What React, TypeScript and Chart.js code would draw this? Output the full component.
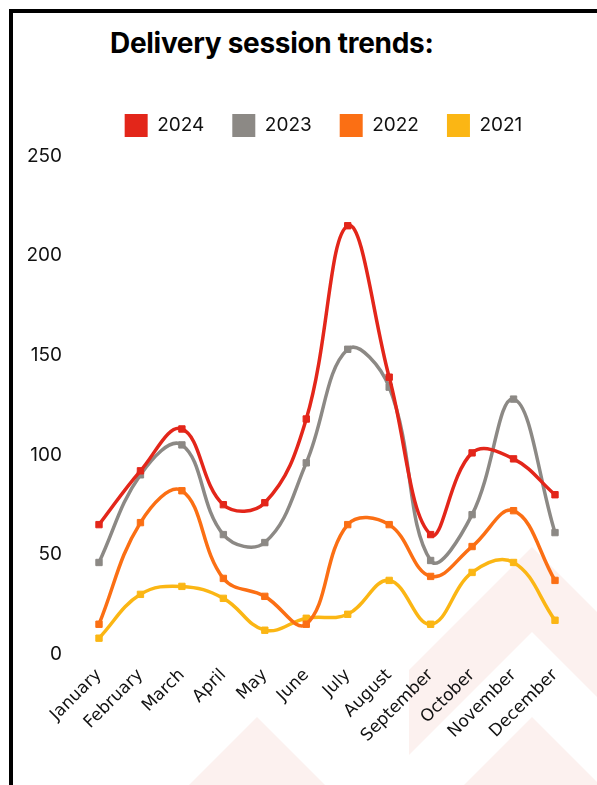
import React, { useEffect, useRef } from 'react';
import { Chart, registerables } from 'chart.js';

Chart.register(...registerables);

const months = [
  'January', 'February', 'March', 'April', 'May', 'June',
  'July', 'August', 'September', 'October', 'November', 'December',
];
const seriesNames = ['2024', '2023', '2022', '2021'];
const sessions2024 = [65, 92, 113, 75, 76, 118, 215, 139, 60, 101, 98, 80];
const sessions2023 = [46, 90, 105, 60, 56, 96, 153, 134, 47, 70, 128, 61];
const sessions2022 = [15, 66, 82, 38, 29, 15, 65, 65, 39, 54, 72, 37];
const sessions2021 = [8, 30, 34, 28, 12, 18, 20, 37, 15, 41, 46, 17];
const seriesValues = [sessions2024, sessions2023, sessions2022, sessions2021];
const seriesColors = ['#e3261a', '#8c8985', '#fb6f14', '#fbb614'];
const yMin = 0;
const yMax = 250;
const yStep = 50;

const legendShift = {
  id: 'legendShift',
  afterLayout(chart: any, _args: any, opts: any) {
    const lg = chart.legend;
    if (!lg) return;
    const dx = opts.dx || 0;
    const dy = opts.dy || 0;
    lg.left += dx;
    lg.right += dx;
    lg.top += dy;
    lg.bottom += dy;
  },
};

export default function App() {
  const canvasRef = useRef<HTMLCanvasElement | null>(null);

  useEffect(() => {
    document.body.style.margin = '0';
    document.body.style.overflow = 'hidden';
    const canvas = canvasRef.current;
    if (!canvas) return;
    const chart = new Chart(canvas, {
      type: 'line',
      data: {
        labels: months,
        datasets: seriesNames.map((name, i) => ({
          label: name,
          data: seriesValues[i],
          borderColor: seriesColors[i],
          backgroundColor: seriesColors[i],
          pointBackgroundColor: seriesColors[i],
          pointBorderColor: seriesColors[i],
          borderWidth: 3.5,
          pointStyle: 'rect',
          pointRadius: 4.5,
          pointBorderWidth: 1,
          tension: 0.4,
          fill: false,
        })),
      },
      options: {
        animation: false,
        responsive: false,
        layout: { padding: { left: 15, right: 42, top: 0, bottom: 36 } },
        plugins: {
          title: { display: false },
          tooltip: { enabled: false },
          legend: {
            display: true,
            position: 'top',
            labels: {
              boxWidth: 23,
              boxHeight: 23,
              padding: 28,
              color: '#111',
              font: { family: 'Inter', size: 19 },
              generateLabels: (c: any) =>
                (Chart.defaults.plugins.legend.labels as any)
                  .generateLabels(c)
                  .map((l: any) => ({ ...l, lineWidth: 0 })),
            },
          },
          legendShift: { dx: 32, dy: -9 },
        } as any,
        scales: {
          x: {
            offset: false,
            grid: { display: false },
            border: { display: false },
            ticks: {
              autoSkip: false,
              maxRotation: 45,
              minRotation: 45,
              color: '#111',
              padding: 3,
              font: { family: 'DejaVu Sans', size: 17 },
            },
          },
          y: {
            min: yMin,
            max: yMax,
            grid: { display: false, drawTicks: false },
            border: { display: false },
            afterFit: (scale: any) => {
              scale.width = 71;
            },
            ticks: {
              stepSize: yStep,
              color: '#111',
              padding: 37,
              font: { family: 'Inter', size: 19 },
            },
          },
        },
      },
      plugins: [legendShift],
    });
    return () => chart.destroy();
  }, []);

  const wm = '#fcf1ef';
  return (
    <div style={{ position: 'relative', width: 597, height: 785, overflow: 'hidden', background: '#fff' }}>
      <svg width={597} height={785} style={{ position: 'absolute', left: 0, top: 0 }}>
        <polygon points="189,785 257,717 325,785" fill={wm} />
        <polygon points="409,670 532,547 620,635 620,720 532,632 409,755" fill={wm} />
        <polygon points="464,785 532,717 600,785" fill={wm} />
      </svg>
      <div
        style={{
          position: 'absolute', left: 9, top: 9, right: 0, bottom: 0,
          borderTop: '4px solid #000', borderLeft: '4px solid #000',
        }}
      />
      <div
        style={{
          position: 'absolute', left: 110, top: 29, fontFamily: 'Inter', fontWeight: 700,
          fontSize: 28, lineHeight: '28px', color: '#000', whiteSpace: 'nowrap', letterSpacing: '-0.3px',
        }}
      >
        Delivery session trends:
      </div>
      <div style={{ position: 'absolute', left: 13, top: 95, width: 584, height: 690 }}>
        <canvas ref={canvasRef} width={584} height={690} />
      </div>
    </div>
  );
}
